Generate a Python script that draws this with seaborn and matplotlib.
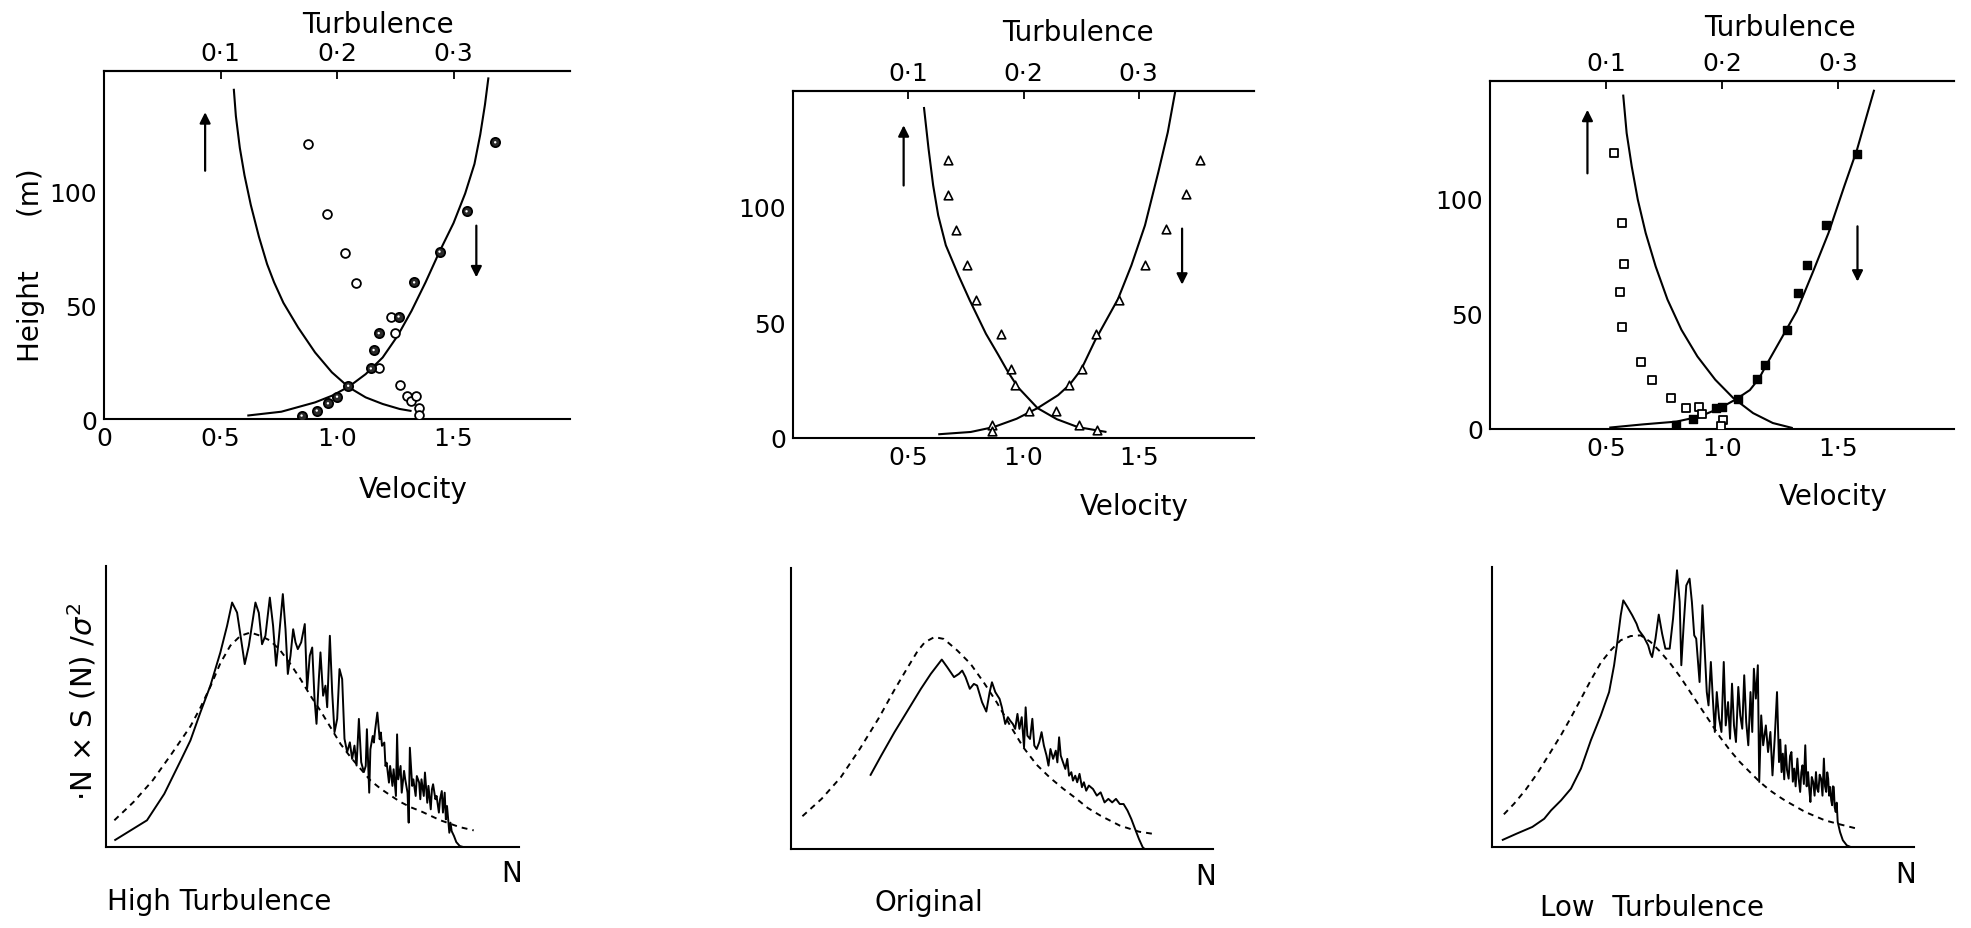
import matplotlib
matplotlib.use("Agg")
import matplotlib.pyplot as plt
import seaborn as sns

sns.set_theme(style="white", rc={"axes.edgecolor": "black", "xtick.color": "black",
                                 "ytick.color": "black", "text.color": "black"})
plt.rcParams["font.family"] = ["DejaVu Sans"]
plt.rcParams["mathtext.fontset"] = "dejavusans"

# ---------------- data: top panels (velocity, height) ----------------
# High turbulence
hi_turb_curve_v = [0.557, 0.566, 0.583, 0.603, 0.630, 0.665, 0.700, 0.730, 0.770, 0.833, 0.906, 0.978, 1.051, 1.123, 1.196, 1.269, 1.320]
hi_turb_curve_h = [145, 133, 119, 107, 94, 80, 68, 60, 51, 40.2, 29.2, 20.5, 13.9, 9.5, 6.6, 4.4, 3.5]
hi_vel_curve_v = [0.615, 0.761, 0.906, 0.978, 1.051, 1.123, 1.196, 1.260, 1.320, 1.380, 1.440, 1.500, 1.550, 1.590, 1.615, 1.635, 1.650]
hi_vel_curve_h = [1.5, 3.2, 7.3, 10.2, 14.2, 19.7, 27.0, 36.5, 47.5, 60, 73.5, 86, 99, 112, 125, 138, 150]
hi_turb_pts_v = [0.877, 0.959, 1.033, 1.080, 1.232, 1.247, 1.181, 1.269, 1.300, 1.319, 1.338, 1.351, 1.351]
hi_turb_pts_h = [120.8, 90.0, 72.9, 59.9, 45.0, 37.6, 22.2, 14.9, 9.9, 7.7, 9.9, 4.7, 1.8]
hi_vel_pts_v = [1.679, 1.556, 1.440, 1.331, 1.264, 1.179, 1.157, 1.145, 1.048, 1.000, 0.961, 0.913, 0.848]
hi_vel_pts_h = [121.5, 91.2, 73.5, 60.0, 45.0, 37.7, 30.3, 22.2, 14.6, 9.8, 6.9, 3.7, 1.5]

# Original
or_turb_curve_v = [0.568, 0.588, 0.608, 0.630, 0.663, 0.718, 0.767, 0.837, 0.890, 0.930, 0.975, 1.061, 1.145, 1.236, 1.360]
or_turb_curve_h = [142.9, 124.9, 109.1, 96.1, 83.2, 70.2, 59.4, 45.0, 36.0, 29.0, 22.0, 12.9, 8.1, 4.7, 2.6]
or_vel_curve_v = [0.630, 0.771, 0.870, 0.970, 1.061, 1.150, 1.200, 1.250, 1.310, 1.360, 1.410, 1.468, 1.527, 1.585, 1.626, 1.659]
or_vel_curve_h = [1.6, 2.6, 4.7, 8.3, 12.9, 18.5, 23, 29.5, 42, 51, 60, 74.5, 91.8, 114.8, 132, 150]
or_turb_pts_v = [0.671, 0.671, 0.708, 0.754, 0.792, 0.904, 0.945, 0.965, 1.141, 1.241, 1.319]
or_turb_pts_h = [119.9, 104.7, 89.9, 74.5, 59.4, 45.0, 29.9, 22.7, 11.7, 5.8, 3.6]
or_vel_pts_v = [1.767, 1.704, 1.618, 1.527, 1.414, 1.314, 1.252, 1.198, 1.023, 0.862, 0.862]
or_vel_pts_h = [119.9, 105.2, 90.4, 74.8, 59.7, 45.0, 29.9, 22.7, 11.7, 5.8, 2.9]

# Low turbulence
lo_turb_curve_v = [0.574, 0.589, 0.611, 0.637, 0.671, 0.714, 0.765, 0.825, 0.894, 0.971, 1.048, 1.134, 1.219, 1.305]
lo_turb_curve_h = [145.2, 128.5, 114.0, 99.6, 85.1, 70.6, 56.2, 43.1, 31.5, 21.4, 13.5, 6.9, 2.6, 0.4]
lo_vel_curve_v = [0.514, 0.659, 0.803, 0.903, 0.990, 1.062, 1.120, 1.160, 1.195, 1.253, 1.322, 1.390, 1.459, 1.527, 1.582, 1.656]
lo_vel_curve_h = [0.6, 2.0, 3.2, 5.4, 9.0, 13.0, 16.9, 22.0, 28.5, 38.8, 51.1, 67.7, 85.1, 105.4, 121.3, 147.3]
lo_turb_pts_v = [0.534, 0.568, 0.577, 0.560, 0.570, 0.650, 0.700, 0.780, 0.845, 0.900, 0.915, 1.005, 0.995]
lo_turb_pts_h = [119.8, 89.4, 71.6, 59.6, 44.4, 29.2, 21.4, 13.5, 9.1, 9.4, 6.5, 4.0, 1.5]
lo_vel_pts_v = [1.582, 1.450, 1.365, 1.327, 1.279, 1.185, 1.150, 1.068, 1.001, 0.976, 0.876, 0.800]
lo_vel_pts_h = [119.5, 88.7, 71.3, 59.0, 43.1, 27.9, 21.6, 13.2, 9.7, 9.3, 4.2, 1.8]

# arrows: (velocity, height from, height to)
hi_arrows = [(0.434, 109, 134.7), (1.598, 84.9, 62.2)]
or_arrows = [(0.480, 109, 135), (1.688, 90.4, 66.2)]
lo_arrows = [(0.420, 111, 138.6), (1.584, 88, 64)]

vel_ticks = [0, 0.5, 1.0, 1.5]
vel_labels = ["0", "0·5", "1·0", "1·5"]
turb_ticks = [0.1, 0.2, 0.3]
turb_labels = ["0·1", "0·2", "0·3"]
h_ticks = [0, 50, 100]
h_labels = ["0", "50", "100"]

# ---------------- data: bottom panels (spectra) ----------------
hi_spec_x = [0.785, 1.066, 1.215, 1.363, 1.440, 1.526, 1.612, 1.698, 1.756, 1.799, 1.842, 1.876, 1.908, 1.943, 2.0, 2.029, 2.057, 2.086, 2.124, 2.152,
             2.178, 2.201, 2.236, 2.259, 2.279, 2.302, 2.325, 2.345, 2.365, 2.394, 2.425, 2.445, 2.468, 2.489, 2.509, 2.526, 2.546, 2.560, 2.583, 2.603,
             2.618, 2.641, 2.661, 2.681, 2.704, 2.724, 2.747, 2.767, 2.790, 2.813, 2.833, 2.853, 2.871, 2.891, 2.911, 2.934,
             2.95, 2.96, 2.98, 2.99, 3.01, 3.02, 3.03, 3.05, 3.07, 3.08, 3.09, 3.11, 3.12, 3.13, 3.15, 3.16, 3.18, 3.19, 3.21, 3.22,
             3.23, 3.25, 3.26, 3.28, 3.29, 3.31, 3.32, 3.33, 3.35, 3.36, 3.38, 3.39, 3.41, 3.42, 3.43, 3.45, 3.46, 3.48, 3.49, 3.51,
             3.52, 3.53, 3.55, 3.56, 3.58, 3.59, 3.605, 3.615, 3.63, 3.64, 3.65, 3.67, 3.68, 3.69, 3.71, 3.73, 3.76, 3.79]
hi_spec_y = [0.28, 1.14, 2.27, 3.76, 4.55, 5.75, 6.89, 8.31, 9.45, 10.44, 10.01, 8.88, 7.81, 8.59, 10.44, 10.0, 8.66, 9.02, 10.65, 9.45,
             7.74, 8.88, 10.80, 9.30, 7.39, 8.17, 9.30, 8.74, 8.45, 8.74, 9.52, 6.75, 8.17, 8.52, 6.32, 5.26, 7.17, 8.31, 6.46, 6.89,
             5.97, 9.02, 6.61, 4.90, 5.47, 7.60, 7.17, 4.62, 4.05, 4.47, 3.76, 4.33, 3.48, 5.47, 3.62, 3.20,
             3.46, 5.03, 2.32, 4.17, 4.74, 4.46, 4.96, 5.74, 4.6, 4.89, 4.32, 4.46, 3.46, 3.6, 2.75, 3.46, 2.61, 3.32, 2.18, 4.81,
             2.89, 3.46, 2.32, 3.25, 2.89, 2.32, 1.04, 4.24, 2.61, 2.89, 2.18, 3.03, 2.75, 2.04, 2.89, 2.18, 3.18, 1.89, 2.61, 1.61,
             2.46, 2.68, 2.04, 2.18, 1.47, 2.04, 2.39, 1.47, 2.32, 1.18, 1.75, 0.61, 1.04, 0.68, 0.47, 0.21, 0.04, 0.0]
hi_fit_x = [0.785, 0.950, 1.116, 1.281, 1.440, 1.526, 1.612, 1.698, 1.784, 1.871, 1.957, 2.043, 2.129, 2.216, 2.302, 2.388, 2.474, 2.560,
            2.647, 2.733, 2.819, 2.905, 2.991, 3.078, 3.164, 3.250, 3.336, 3.428, 3.593, 3.759, 3.880]
hi_fit_y = [1.14, 1.92, 2.85, 4.0, 5.15, 5.95, 6.85, 7.85, 8.6, 9.02, 9.16, 9.02, 8.81, 8.38, 7.81, 7.17, 6.46, 5.82,
            5.11, 4.40, 3.84, 3.34, 2.84, 2.49, 2.20, 1.92, 1.70, 1.52, 1.14, 0.85, 0.71]

or_spec_x = [1.388, 1.484, 1.599, 1.713, 1.828, 1.914, 2.009, 2.057, 2.115, 2.158, 2.186, 2.215, 2.252, 2.287, 2.315, 2.358, 2.395, 2.424, 2.444, 2.473,
             2.510, 2.530, 2.559, 2.582, 2.602, 2.625, 2.645, 2.665, 2.682, 2.702, 2.722, 2.736, 2.751, 2.774, 2.794, 2.811, 2.831, 2.854, 2.874, 2.894,
             2.917, 2.934, 2.951, 2.974, 2.997, 3.011, 3.026, 3.040, 3.060, 3.080, 3.097, 3.112, 3.132, 3.146, 3.166, 3.183, 3.203, 3.224, 3.241, 3.261,
             3.284, 3.320, 3.353, 3.386, 3.420, 3.453, 3.486, 3.519, 3.552, 3.585, 3.619, 3.652, 3.685, 3.718, 3.751, 3.768]
or_spec_y = [3.13, 3.99, 4.99, 5.91, 6.84, 7.48, 8.09, 7.76, 7.34, 7.48, 7.62, 7.34, 6.84, 7.05, 6.98, 6.27, 5.87, 6.70, 7.12, 6.70,
             6.41, 6.05, 5.34, 5.63, 5.48, 5.34, 5.13, 5.77, 5.13, 5.63, 4.34, 6.05, 4.84, 4.70, 5.56, 4.42, 4.27, 4.56, 4.99, 4.42,
             3.99, 3.56, 4.27, 3.85, 4.20, 3.70, 4.77, 3.99, 3.70, 3.42, 3.85, 3.13, 3.28, 2.92, 3.13, 2.85, 3.21, 2.64, 2.85, 2.49,
             2.71, 2.56, 2.28, 2.42, 1.99, 2.14, 1.99, 2.14, 1.92, 1.92, 1.64, 1.28, 0.85, 0.43, 0.07, 0.0]
or_fit_x = [0.801, 0.967, 1.133, 1.298, 1.464, 1.599, 1.713, 1.799, 1.862, 1.945, 2.027, 2.143, 2.258, 2.372, 2.487, 2.602, 2.716, 2.831,
            2.946, 3.060, 3.175, 3.275, 3.386, 3.552, 3.718, 3.850]
or_fit_y = [1.40, 2.14, 3.06, 4.27, 5.60, 6.80, 7.75, 8.45, 8.83, 9.05, 8.97, 8.48, 7.91, 7.12, 6.25, 5.27, 4.34, 3.60,
            3.05, 2.58, 2.15, 1.75, 1.42, 1.00, 0.74, 0.64]

lo_spec_x = [0.796, 0.922, 1.058, 1.160, 1.219, 1.305, 1.390, 1.476, 1.561, 1.647, 1.718, 1.761, 1.789, 1.818, 1.840, 1.875, 1.917, 1.954, 1.974, 2.017,
             2.054, 2.074, 2.088, 2.117, 2.145, 2.174, 2.202, 2.239, 2.268, 2.302, 2.325, 2.339, 2.359, 2.382, 2.410, 2.430, 2.450, 2.467, 2.496, 2.521,
             2.538, 2.558, 2.573, 2.593, 2.610, 2.627, 2.644, 2.664, 2.684, 2.704, 2.721, 2.741, 2.758, 2.775, 2.792, 2.809, 2.829, 2.846, 2.863, 2.880,
             2.897, 2.915, 2.934, 2.949, 2.963, 2.980, 2.997, 3.009, 3.026, 3.043, 3.066, 3.085, 3.105, 3.123, 3.142, 3.162, 3.179, 3.190, 3.201, 3.212,
             3.224, 3.235, 3.248, 3.262, 3.274, 3.286, 3.298, 3.310, 3.322, 3.337, 3.349, 3.361, 3.371, 3.381, 3.393, 3.405, 3.417, 3.429, 3.439, 3.449,
             3.461, 3.473, 3.485, 3.497, 3.507, 3.517, 3.529, 3.541, 3.553, 3.565, 3.575, 3.585, 3.594, 3.602, 3.610, 3.619, 3.628, 3.636, 3.643, 3.650,
             3.658, 3.667, 3.675, 3.684, 3.704, 3.728, 3.762, 3.796]
lo_spec_y = [0.29, 0.57, 0.86, 1.21, 1.57, 2.0, 2.5, 3.36, 4.57, 5.64, 6.64, 7.79, 8.79, 9.93, 10.57, 10.29, 9.93, 9.57, 9.29, 9.0,
             8.64, 8.29, 8.14, 8.93, 9.96, 9.14, 8.5, 8.5, 9.79, 11.86, 10.5, 7.79, 9.5, 11.21, 11.5, 10.5, 9.07, 8.93, 7.07, 10.36,
             8.64, 6.64, 6.07, 7.93, 6.36, 4.93, 6.64, 5.5, 4.93, 7.93, 5.21, 6.21, 4.64, 7.0, 5.21, 4.5, 6.86, 5.64, 5.07, 7.36,
             5.36, 4.36, 6.64, 4.93, 7.64, 6.36, 7.79, 2.79, 5.64, 4.36, 5.21, 4.07, 4.93, 3.07, 4.64, 6.64, 3.64, 4.6, 3.21, 4.0,
             2.9, 4.36, 3.3, 2.93, 3.9, 4.07, 2.8, 3.36, 2.6, 3.79, 2.9, 2.36, 3.2, 3.5, 2.7, 4.36, 2.6, 3.21, 2.5, 1.93,
             3.0, 2.79, 2.2, 3.21, 2.5, 2.36, 3.1, 2.93, 2.2, 3.79, 2.6, 2.36, 3.2, 2.93, 2.2, 2.57, 2.0, 1.79, 2.6, 2.57,
             1.7, 1.5, 1.9, 1.07, 0.64, 0.29, 0.07, 0.0]
lo_fit_x = [0.813, 0.90, 1.00, 1.10, 1.20, 1.305, 1.390, 1.476, 1.561, 1.647, 1.732, 1.818, 1.903, 1.989, 2.074, 2.160, 2.245, 2.330,
            2.416, 2.501, 2.587, 2.672, 2.758, 2.843, 2.929, 3.014, 3.100, 3.185, 3.235, 3.405, 3.575, 3.711, 3.847]
lo_fit_y = [1.4, 1.85, 2.45, 3.15, 3.95, 4.8, 5.55, 6.35, 7.15, 7.9, 8.43, 8.86, 9.04, 9.07, 8.79, 8.36, 7.86, 7.29,
            6.64, 6.0, 5.36, 4.71, 4.14, 3.64, 3.21, 2.79, 2.43, 2.14, 1.98, 1.5, 1.14, 0.96, 0.79]

spec_xticks = [1, 2, 3, 4]
spec_yticks = list(range(1, 13))

# ---------------- figure ----------------
W, H = 1971, 929
fig = plt.figure(figsize=(W / 100, H / 100), dpi=100)
fig.patch.set_facecolor("white")

FS_LAB = 20
FS_TICK = 18
LW = 1.5


def px_axes(l, t, r, b):
    return fig.add_axes([l / W, 1 - b / H, (r - l) / W, (b - t) / H])


def ftext(x, y, s, **kw):
    fig.text(x / W, 1 - y / H, s, fontsize=kw.pop("fontsize", FS_LAB), ha=kw.pop("ha", "center"),
             va=kw.pop("va", "center"), **kw)


def curve(ax, x, y, dashed=False, lw=LW):
    sns.lineplot(x=x, y=y, ax=ax, color="black", lw=lw, estimator=None, sort=False)
    ln = ax.lines[-1]
    if dashed:
        ln.set_linestyle((0, (3.0, 2.6)))
    ln.set_solid_capstyle("butt")


def top_panel(rect, ytop, tc, vc, pts, arrows, show_zero):
    ax = px_axes(*rect)
    ax.set_facecolor("white")
    curve(ax, *tc)
    curve(ax, *vc)
    for (px, py, kind) in pts:
        if kind == "open_circle":
            sns.scatterplot(x=px, y=py, ax=ax, marker="o", s=40, facecolor="white", edgecolor="black", linewidth=1.3, zorder=5)
        elif kind == "dot_circle":
            sns.scatterplot(x=px, y=py, ax=ax, marker="o", s=44, facecolor="#2a2a2a", edgecolor="black", linewidth=1.3, zorder=5)
            sns.scatterplot(x=px, y=py, ax=ax, marker="o", s=3, facecolor="white", edgecolor="none", linewidth=0, zorder=6)
        elif kind == "triangle":
            sns.scatterplot(x=px, y=py, ax=ax, marker="^", s=38, facecolor="white", edgecolor="black", linewidth=1.2, zorder=5)
        elif kind == "open_square":
            sns.scatterplot(x=px, y=py, ax=ax, marker="s", s=34, facecolor="white", edgecolor="black", linewidth=1.3, zorder=5)
        elif kind == "filled_square":
            sns.scatterplot(x=px, y=py, ax=ax, marker="s", s=34, facecolor="black", edgecolor="black", linewidth=1.0, zorder=5)
    for (av, h0, h1) in arrows:
        ax.annotate("", xy=(av, h1), xytext=(av, h0),
                    arrowprops=dict(arrowstyle="-|>", color="black", lw=1.6, mutation_scale=16,
                                    shrinkA=0, shrinkB=0))
    ax.set_xlim(0, 2.0)
    ax.set_ylim(0, ytop)
    if show_zero:
        ax.set_xticks(vel_ticks, labels=vel_labels)
    else:
        ax.set_xticks(vel_ticks[1:], labels=vel_labels[1:])
    ax.set_yticks(h_ticks, labels=h_labels)
    ax.tick_params(axis="both", direction="in", length=6, width=1.3, labelsize=FS_TICK, pad=5)
    ax.set_xlabel("")
    ax.set_ylabel("")
    for s in ["left", "bottom", "top"]:
        ax.spines[s].set_linewidth(1.5)
        ax.spines[s].set_color("black")
    ax.spines["right"].set_visible(False)
    sec = ax.secondary_xaxis("top", functions=(lambda v: v / 5.0, lambda t: t * 5.0))
    sec.set_xticks(turb_ticks, labels=turb_labels)
    sec.tick_params(direction="in", length=6, width=1.3, labelsize=FS_TICK, pad=4)
    sec.spines["top"].set_linewidth(1.5)
    return ax


def bottom_panel(rect, xlim, sx, sy, fx, fy):
    ax = px_axes(*rect)
    ax.set_facecolor("white")
    curve(ax, fx, fy, dashed=True, lw=1.4)
    curve(ax, sx, sy, lw=1.4)
    ax.set_xlim(*xlim)
    ax.set_ylim(0, 12)
    ax.set_xticks(spec_xticks, labels=[])
    ax.set_yticks(spec_yticks, labels=[])
    ax.tick_params(axis="x", direction="in", length=8, width=1.3)
    ax.tick_params(axis="y", direction="in", length=5, width=1.2)
    ax.set_xlabel("")
    ax.set_ylabel("")
    for s in ["left", "bottom"]:
        ax.spines[s].set_linewidth(1.5)
        ax.spines[s].set_color("black")
    ax.spines["right"].set_visible(False)
    ax.spines["top"].set_visible(False)
    return ax


# top row
top_panel((104, 72, 570, 420), 152.8,
          (hi_turb_curve_v, hi_turb_curve_h), (hi_vel_curve_v, hi_vel_curve_h),
          [(hi_turb_pts_v, hi_turb_pts_h, "open_circle"), (hi_vel_pts_v, hi_vel_pts_h, "dot_circle")],
          hi_arrows, True)
top_panel((793, 92, 1254, 439), 149.8,
          (or_turb_curve_v, or_turb_curve_h), (or_vel_curve_v, or_vel_curve_h),
          [(or_turb_pts_v, or_turb_pts_h, "triangle"), (or_vel_pts_v, or_vel_pts_h, "triangle")],
          or_arrows, False)
top_panel((1490, 82, 1954, 430), 151.1,
          (lo_turb_curve_v, lo_turb_curve_h), (lo_vel_curve_v, lo_vel_curve_h),
          [(lo_turb_pts_v, lo_turb_pts_h, "open_square"), (lo_vel_pts_v, lo_vel_pts_h, "filled_square")],
          lo_arrows, False)

ftext(378, 25, "Turbulence")
ftext(1078, 33, "Turbulence")
ftext(1780, 28, "Turbulence")
ftext(413, 490, "Velocity")
ftext(1134, 507, "Velocity")
ftext(1833, 497, "Velocity")
ftext(31, 265, "Height      (m)", rotation=90)

# bottom row
bottom_panel((106, 567, 519, 848), (0.713, 4.27), hi_spec_x, hi_spec_y, hi_fit_x, hi_fit_y)
bottom_panel((791, 569, 1213, 850), (0.702, 4.36), or_spec_x, or_spec_y, or_fit_x, or_fit_y)
bottom_panel((1492, 568, 1914, 848), (0.711, 4.34), lo_spec_x, lo_spec_y, lo_fit_x, lo_fit_y)

ftext(82, 702, r"·N × S (N) /$\sigma^2$", rotation=90, fontsize=21)
ftext(512, 874, "N")
ftext(1206, 877, "N")
ftext(1906, 875, "N")
ftext(107, 902, "High Turbulence", ha="left")
ftext(875, 903, "Original", ha="left")
ftext(1540, 908, "Low  Turbulence", ha="left")

fig.savefig("out.png", dpi=100, facecolor="white")
